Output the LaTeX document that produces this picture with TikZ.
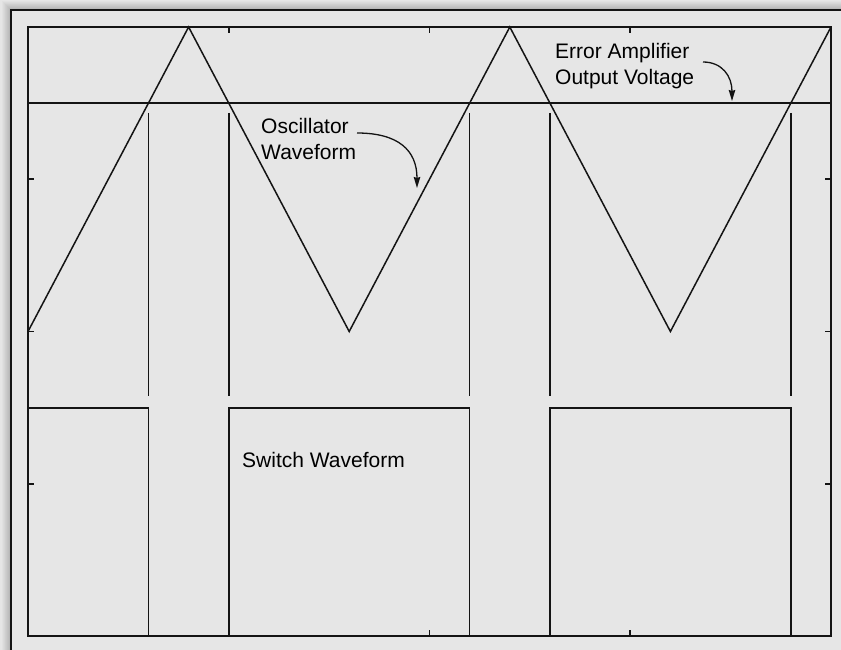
\documentclass[tikz,border=0pt]{standalone}
\usepackage{fontspec}
\setmainfont{Liberation Sans}
\usetikzlibrary{arrows.meta}
\definecolor{plotbg}{RGB}{230,230,230}
\definecolor{plotline}{RGB}{20,20,20}

\begin{document}
\begin{tikzpicture}[
    x=1pt, y=-1pt,
    wave/.style={line width=1.5pt, plotline, line join=miter},
    axis/.style={line width=1.7pt, plotline},
    tickmark/.style={line width=1.8pt, plotline},
    label/.style={anchor=north west, inner sep=0pt, align=left, text=black, font=\fontsize{21}{26}\selectfont},
    arrow/.style={-{Stealth[length=11pt,width=6.5pt,inset=1pt]}, line width=1.3pt, plotline}
]

\useasboundingbox (0,0) rectangle (841,650);
\clip (0,0) rectangle (841,650);
\fill[plotbg] (0,0) rectangle (841,650);

% Shadow and frame
\foreach \i [evaluate=\i as \p using {int(2.5*(10-\i))}] in {1,...,10}
    \draw[black!\p!plotbg, line width=1.05pt] (11-\i,900) -- (11-\i,10-\i) -- (900,10-\i);
\draw[line width=1.5pt, plotline] (11,10) rectangle (900,900);

% Plot box and ticks
\draw[axis] (28,27) rectangle (831,636);
\foreach \tx in {228.75,429.5,630.25} {
    \draw[tickmark] (\tx,27) -- ++(0,6);
    \draw[tickmark] (\tx,636) -- ++(0,-6);
}
\foreach \ty in {179.25,331.5,483.75} {
    \draw[tickmark] (28,\ty) -- ++(6,0);
    \draw[tickmark] (831,\ty) -- ++(-6,0);
}

% Oscillator waveform
\draw[wave] (28,331.5) -- (188.6,27) -- (349.2,331.5) -- (509.8,27) -- (670.4,331.5) -- (831,27);

% Error amplifier output voltage
\draw[wave] (28,103) -- (831,103);

% Switching instants
\foreach \sx in {148.45,228.75,469.65,549.95,790.85}
    \draw[wave] (\sx,113) -- (\sx,396);

% Switch waveform
\draw[wave] (28,408) -- (148.45,408) -- (148.45,636) -- (228.75,636) -- (228.75,408)
    -- (469.65,408) -- (469.65,636) -- (549.95,636) -- (549.95,408)
    -- (790.85,408) -- (790.85,636);

% Labels
\node[label] (erramp) at (555,43) {Error Amplifier\\Output Voltage};
\node[label] (osc) at (261,118) {Oscillator\\Waveform};
\node[label] (switch) at (242,452) {Switch Waveform};

\coordinate (errstart) at (703,62);
\coordinate (errtip) at (732,101);
\coordinate (oscstart) at (357,133);
\coordinate (osctip) at (417,188);

\draw[arrow] (errstart) .. controls (722,62) and (732,76) .. (errtip);
\draw[arrow] (oscstart) .. controls (398,133) and (417,150) .. (osctip);

\end{tikzpicture}
\end{document}
